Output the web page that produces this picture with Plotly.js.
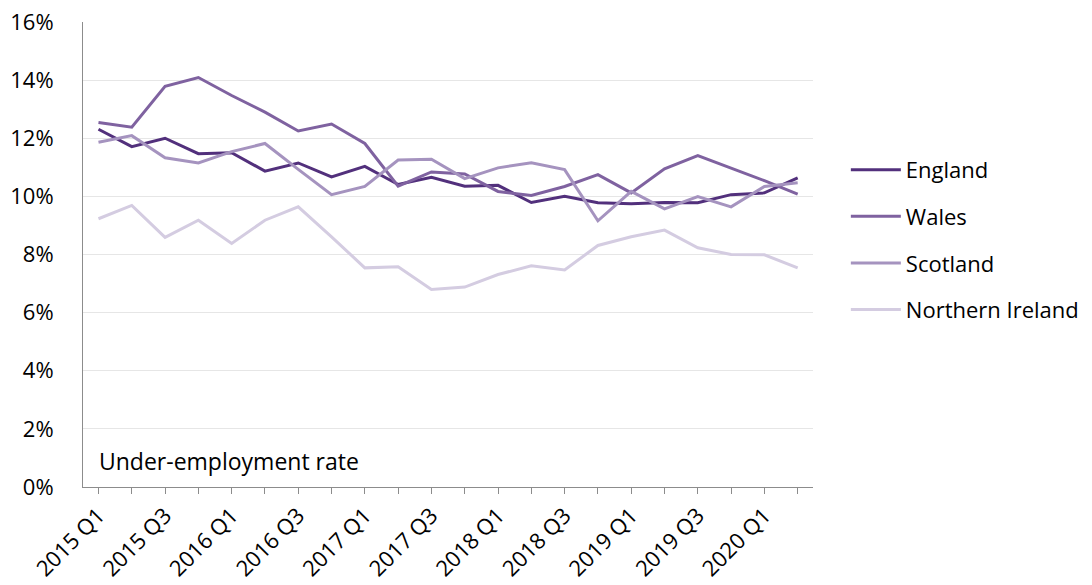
<!DOCTYPE html>
<html>
<head>
<meta charset="utf-8">
<script src="https://cdn.plot.ly/plotly-3.0.1.min.js"></script>
<style>html,body{margin:0;padding:0;background:#fff;}#chart{width:1092px;height:585px;}</style>
</head>
<body>
<div id="chart"></div>
<script>
const quarters = ["2015 Q1","2015 Q2","2015 Q3","2015 Q4","2016 Q1","2016 Q2","2016 Q3","2016 Q4",
  "2017 Q1","2017 Q2","2017 Q3","2017 Q4","2018 Q1","2018 Q2","2018 Q3","2018 Q4",
  "2019 Q1","2019 Q2","2019 Q3","2019 Q4","2020 Q1","2020 Q2"];
const england = [12.31, 11.71, 12.0, 11.47, 11.50, 10.87, 11.15, 10.67, 11.03, 10.41, 10.66, 10.35, 10.38, 9.79, 10.0, 9.78, 9.75, 9.79, 9.78, 10.06, 10.12, 10.64];
const wales = [12.54, 12.38, 13.79, 14.09, 13.47, 12.90, 12.25, 12.49, 11.82, 10.35, 10.84, 10.77, 10.17, 10.03, 10.34, 10.75, 10.12, 10.95, 11.40, 10.98, 10.54, 10.08];
const scotland = [11.86, 12.09, 11.33, 11.15, 11.54, 11.82, 10.93, 10.06, 10.34, 11.25, 11.28, 10.61, 10.98, 11.16, 10.92, 9.16, 10.17, 9.57, 9.99, 9.64, 10.34, 10.47];
const northernIreland = [9.23, 9.69, 8.59, 9.18, 8.38, 9.18, 9.64, 8.61, 7.54, 7.58, 6.80, 6.88, 7.31, 7.61, 7.47, 8.31, 8.61, 8.84, 8.23, 8.0, 7.99, 7.54];
const seriesNames = ["England", "Wales", "Scotland", "Northern Ireland"];
const seriesColors = ["#52307c", "#7f62a0", "#a593bf", "#d4cce1"];
const annotationText = "Under-employment rate";

const idx = quarters.map((q, i) => i);
const tickIdx = idx.filter(i => i % 2 === 0);
const tickText = tickIdx.map(i => quarters[i]);
const allSeries = [england, wales, scotland, northernIreland];

const FONT = "'Open Sans', sans-serif";
const traces = allSeries.map((vals, k) => ({
  x: idx, y: vals, type: 'scatter', mode: 'lines', name: seriesNames[k],
  legendgroup: 'g' + k,
  line: {color: seriesColors[k], width: 3},
  text: quarters, hovertemplate: '%{text}: %{y:.1f}%<extra>' + seriesNames[k] + '</extra>'
}));

const layout = {
  width: 1092, height: 585,
  margin: {l: 83, r: 279, t: 22, b: 98, autoexpand: false},
  paper_bgcolor: '#fff', plot_bgcolor: '#fff',
  font: {family: FONT, size: 22, color: '#000'},
  showlegend: true,
  legend: {x: 1.045, y: 0.727, xanchor: 'left', yanchor: 'top', font: {family: FONT, size: 22, color: '#000'},
    tracegroupgap: 15, itemwidth: 50, bgcolor: 'rgba(0,0,0,0)'},
  xaxis: {
    range: [-0.465, 21.46], tickmode: 'array', tickvals: tickIdx, ticktext: tickText,
    tickangle: -45, showgrid: false, zeroline: false,
    showline: true, linecolor: '#8c8c8c', linewidth: 1,
    ticks: 'outside', ticklen: 6, tickcolor: '#8c8c8c',
    minor: {dtick: 1, tick0: 0, ticks: 'outside', ticklen: 6, tickcolor: '#8c8c8c', showgrid: false},
    tickfont: {family: FONT, size: 22, color: '#000'}
  },
  yaxis: {
    range: [0, 16], dtick: 2, ticksuffix: '%', showgrid: true, gridcolor: '#e6e6e6', gridwidth: 1,
    zeroline: false, showline: true, linecolor: '#8c8c8c', linewidth: 1, ticks: '',
    ticklabelstandoff: 24,
    tickfont: {family: FONT, size: 22, color: '#000'}
  },
  annotations: [{
    text: annotationText, xref: 'paper', yref: 'paper', x: 0.019, y: 0.055,
    xanchor: 'left', yanchor: 'middle', showarrow: false,
    font: {family: FONT, size: 23, color: '#000'}
  }]
};

Plotly.newPlot('chart', traces, layout, {displayModeBar: false, staticPlot: true});
</script>
</body>
</html>
